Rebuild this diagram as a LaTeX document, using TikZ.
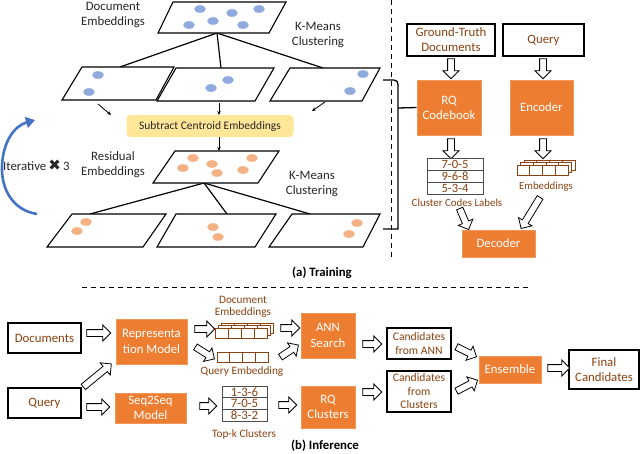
\documentclass[tikz,border=0pt]{standalone}
\usepackage{fontspec}
\setmainfont{Carlito}
\newfontfamily\djv{DejaVu Sans}
\usetikzlibrary{calc,shapes.arrows,arrows.meta}
\definecolor{orng}{HTML}{ED7D31}
\definecolor{brn}{HTML}{8A4210}
\definecolor{bdot}{HTML}{8FAADC}
\definecolor{odot}{HTML}{F4B183}
\definecolor{ylw}{HTML}{FFE699}
\definecolor{blu}{HTML}{4472C4}
\definecolor{txt}{HTML}{262626}
\tikzset{
  para/.style={draw=black, line width=1.1pt, fill=white},
  kline/.style={draw=black, line width=1.2pt},
  thinarr/.style={draw=black, line width=0.8pt, -{Stealth[length=4pt,width=3.5pt]}},
  bdotst/.style={fill=bdot},
  odotst/.style={fill=odot},
  obox/.style={fill=orng, draw=orng!80!white, line width=0.6pt, text=white, align=center, inner sep=0pt},
  wbox/.style={draw=black, line width=1.1pt, fill=white, text=brn, align=center, inner sep=0pt},
  lbl/.style={text=txt, align=center, inner sep=0pt},
  blbl/.style={text=brn, align=center, inner sep=0pt},
  cell/.style={draw=gray!60!black, line width=0.8pt, minimum width=56pt, minimum height=12pt, inner sep=0pt, text=brn, font=\fontsize{12.6}{12}\selectfont},
  emb/.style={draw=brn, line width=0.7pt, fill=white},
  blkarr/.style={single arrow, draw=black, fill=white, line width=0.8pt, inner xsep=0pt, inner ysep=3pt, single arrow head extend=4.5pt, single arrow tip angle=90, minimum width=0pt, outer sep=0pt},
  dsh/.style={draw=black, line width=0.9pt, dash pattern=on 5pt off 4pt}
}
\newcommand{\blkarrow}[2]{\path let \p1=(#1), \p2=(#2), \n1={atan2(\y2-\y1,\x2-\x1)}, \n2={veclen(\x2-\x1,\y2-\y1)} in node[blkarr, minimum height=\n2, rotate=\n1] (arr-#1-#2) at ($(\p1)!0.5!(\p2)$) {};}
\newcommand{\embrow}[4]{\draw[emb] (#1,#2) rectangle ++(#3,#4);
  \foreach \k in {1,2,3} {\draw[emb] ($(#1,#2)+(\k*#3/4,0)$) -- ++(0,#4);}}
\begin{document}
\begin{tikzpicture}[x=1pt,y=-1pt,font=\fontsize{12.8}{15.2}\selectfont]
\useasboundingbox (0,0) rectangle (640,453);

% ---------------- Training: clustering tree ----------------
\coordinate (P0s) at (217,33);
\coordinate (P1n) at (120,67);
\coordinate (P2n) at (221,68);
\coordinate (P3n) at (323,68);
\draw[kline] (P0s) -- (P1n);
\draw[kline] (P0s) -- (P2n);
\draw[kline] (P0s) -- (P3n);

\draw[para] (158,33) -- (173,2) -- (286,2) -- (269,33) -- cycle;
\foreach \a/\b in {200/9,232/13,259/9,189/25,213/21,243/25} \fill[bdotst] (\a,\b) ellipse [x radius=5.8, y radius=3.8];

\draw[para] (62,100) -- (82,67) -- (174,67) -- (156,100) -- cycle;
\draw[para] (157,101) -- (176,68) -- (274,68) -- (255,101) -- cycle;
\draw[para] (270,101) -- (290,68) -- (380,68) -- (362,101) -- cycle;
\foreach \a/\b in {98/75,89/92,228/80,211/88,363/74,350/91} \fill[bdotst] (\a,\b) ellipse [x radius=5.8, y radius=3.8];

\node[lbl] (docemb) at (113,15) {Document\\Embeddings};
\node[lbl] (km1) at (318,35) {K-Means\\Clustering};

\node[fill=ylw, rounded corners=4pt, minimum width=167pt, minimum height=22pt, inner sep=0pt, text=txt, font=\fontsize{11.5}{13}\selectfont] (S) at (210,126) {Subtract Centroid Embeddings};

\coordinate (a1s) at (98,104); \coordinate (a1e) at (111,115);
\coordinate (a2s) at (219,103); \coordinate (a2e) at (219,115);
\coordinate (a3s) at (325,102); \coordinate (a3e) at (312,111);
\draw[thinarr] (a1s) -- (a1e);
\draw[thinarr] (a2s) -- (a2e);
\draw[thinarr] (a3s) -- (a3e);
\coordinate (a4s) at (219,137); \coordinate (a4e) at (219,151);
\draw[thinarr] (a4s) -- (a4e);

\coordinate (R0s) at (204,183);
\coordinate (Q1n) at (90,214);
\coordinate (Q2n) at (227,214);
\coordinate (Q3n) at (310,214);
\draw[kline] (R0s) -- (Q1n);
\draw[kline] (R0s) -- (Q2n);
\draw[kline] (R0s) -- (Q3n);

\draw[para] (153,183) -- (175,151) -- (279,151) -- (258,183) -- cycle;
\foreach \a/\b in {193/158,183/168,212/164,217/173,252/158,243/170} \fill[odotst] (\a,\b) ellipse [x radius=5.8, y radius=3.8];

\draw[para] (47,247) -- (72,214) -- (166,214) -- (143,247) -- cycle;
\draw[para] (157,247) -- (176,214) -- (276,214) -- (255,247) -- cycle;
\draw[para] (269,247) -- (292,214) -- (380,214) -- (363,247) -- cycle;
\foreach \a/\b in {86/222,77/231,213/227,218/237,357/223,349/234} \fill[odotst] (\a,\b) ellipse [x radius=5.8, y radius=3.8];

\node[lbl] (resemb) at (113,165) {Residual\\Embeddings};
\node[lbl] (km2) at (312,184) {K-Means\\Clustering};

% iterative arc
\coordinate (itA) at (37,214);
\coordinate (itB) at (35,120);
\draw[blu, line width=2.6pt, -{Triangle[length=9pt,width=11pt]}] (itA) .. controls (12,210) and (1,188) .. (2,166) .. controls (3,142) and (14,126) .. (itB);
\node[lbl, anchor=west] (iter) at (3,165) {Iterative\,{\djv\fontsize{15}{15}\selectfont ✖}\,3};

% dashed separators
\coordinate (vd1) at (391,0); \coordinate (vd2) at (391,257);
\draw[dsh] (vd1) -- (vd2);
\coordinate (hd1) at (82,287); \coordinate (hd2) at (528,287);
\draw[dsh] (hd1) -- (hd2);

\node[font=\bfseries\fontsize{12.8}{15}\selectfont, inner sep=0pt] (trn) at (322,273) {(a) Training};

% ---------------- Training: right part ----------------
\node[wbox, minimum width=88pt, minimum height=32pt] (GT) at (451,40) {Ground-Truth\\Documents};
\node[wbox, minimum width=81pt, minimum height=32pt] (QT) at (543.5,40) {Query};
\node[obox, minimum width=64pt, minimum height=55pt] (RQ) at (449,107.5) {RQ\\Codebook};
\node[obox, minimum width=63pt, minimum height=55pt] (ENC) at (541.5,107.5) {Encoder};

% brace
\draw[black, line width=1.3pt] (383,80) -- (394,80) .. controls (397,80) and (398,82) .. (398,85) -- (398,229) -- (383,229);
\draw[black, line width=1.3pt] (398,108) -- (RQ.west);

\coordinate (b1s) at (451,57); \coordinate (b1e) at (451,77);
\coordinate (b2s) at (543,57); \coordinate (b2e) at (543,77);
\blkarrow{b1s}{b1e}
\blkarrow{b2s}{b2e}
\coordinate (b3s) at (451,137); \coordinate (b3e) at (451,157);
\coordinate (b4s) at (543,137); \coordinate (b4e) at (543,157);
\blkarrow{b3s}{b3e}
\blkarrow{b4s}{b4e}

\node[cell] (cc1) at (455,164) {7-0-5};
\node[cell] (cc2) at (455,176) {9-6-8};
\node[cell] (cc3) at (455,188) {5-3-4};
\node[blbl, font=\fontsize{10.9}{12}\selectfont] (ccl) at (457,203) {Cluster Codes Labels};

\embrow{524}{160}{51}{10}
\embrow{520.5}{162.5}{51}{10}
\embrow{517}{165}{51}{10}
\node[blbl, font=\fontsize{10.8}{12}\selectfont] (embl) at (546,187) {Embeddings};

\node[obox, minimum width=73pt, minimum height=27pt] (DEC) at (498.5,243.5) {Decoder};
\coordinate (b5s) at (459,207); \coordinate (b5e) at (468,228);
\coordinate (b6s) at (541,196); \coordinate (b6e) at (522,227);
\blkarrow{b5s}{b5e}
\blkarrow{b6s}{b6e}

% ---------------- Inference ----------------
\node[wbox, minimum width=73pt, minimum height=30pt] (DOC) at (44.5,338) {Documents};
\node[wbox, minimum width=73pt, minimum height=30pt] (QI) at (44.5,403) {Query};
\node[obox, minimum width=71pt, minimum height=45pt] (REP) at (151.5,341.5) {Representa\\tion Model};
\node[obox, minimum width=71pt, minimum height=30pt] (SEQ) at (150.5,408) {Seq2Seq\\Model};

\coordinate (c1s) at (85,333); \coordinate (c1e) at (109,333);
\coordinate (c2s) at (82,388); \coordinate (c2e) at (110,365);
\coordinate (c3s) at (85,407); \coordinate (c3e) at (108,407);
\blkarrow{c1s}{c1e}
\blkarrow{c2s}{c2e}
\blkarrow{c3s}{c3e}

\coordinate (c4s) at (193,329); \coordinate (c4e) at (213,329);
\coordinate (c5s) at (194,346); \coordinate (c5e) at (213,358);
\blkarrow{c4s}{c4e}
\blkarrow{c5s}{c5e}

\node[blbl, font=\fontsize{11.3}{12.5}\selectfont] (deml) at (243,307) {Document\\Embeddings};
\embrow{221}{323}{52}{10}
\embrow{218}{325.5}{52}{10}
\embrow{215}{328}{52}{10}
\embrow{217}{352}{51}{10}
\node[blbl, font=\fontsize{11.3}{12.5}\selectfont] (qeml) at (242,372) {Query Embedding};

\node[cell, minimum width=45pt, minimum height=11.7pt, font=\fontsize{12.8}{12}\selectfont] (tk1) at (244.5,391.8) {1-3-6};
\node[cell, minimum width=45pt, minimum height=11.7pt, font=\fontsize{12.8}{12}\selectfont] (tk2) at (244.5,403.5) {7-0-5};
\node[cell, minimum width=45pt, minimum height=11.7pt, font=\fontsize{12.8}{12}\selectfont] (tk3) at (244.5,415.2) {8-3-2};
\node[blbl, font=\fontsize{11.3}{12.5}\selectfont] (tkl) at (244,434) {Top-k Clusters};

\coordinate (c6s) at (198,406); \coordinate (c6e) at (215,406);
\blkarrow{c6s}{c6e}

\node[obox, minimum width=54pt, minimum height=45pt] (ANN) at (328,335.5) {ANN\\Search};
\node[obox, minimum width=54pt, minimum height=42pt] (RQC) at (328,407) {RQ\\Clusters};

\coordinate (c7s) at (279,328); \coordinate (c7e) at (298,328);
\coordinate (c8s) at (279,358); \coordinate (c8e) at (297,346);
\coordinate (c9s) at (277,405); \coordinate (c9e) at (295,405);
\blkarrow{c7s}{c7e}
\blkarrow{c8s}{c8e}
\blkarrow{c9s}{c9e}

\node[wbox, minimum width=64pt, minimum height=31pt, font=\fontsize{11.6}{14}\selectfont] (CA) at (419,343.5) {Candidates\\from ANN};
\node[wbox, minimum width=64pt, minimum height=41pt, font=\fontsize{11.6}{13.5}\selectfont] (CC) at (419,391.5) {Candidates\\from\\Clusters};

\coordinate (d1s) at (361,344); \coordinate (d1e) at (380,344);
\coordinate (d2s) at (361,392); \coordinate (d2e) at (380,392);
\blkarrow{d1s}{d1e}
\blkarrow{d2s}{d2e}

\node[obox, minimum width=62pt, minimum height=27pt] (ENS) at (510,369.5) {Ensemble};
\coordinate (d3s) at (455,346); \coordinate (d3e) at (475,356);
\coordinate (d4s) at (455,392); \coordinate (d4e) at (476,381);
\blkarrow{d3s}{d3e}
\blkarrow{d4s}{d4e}

\node[wbox, minimum width=70pt, minimum height=39pt] (FIN) at (604,369.5) {Final\\Candidates};
\coordinate (d5s) at (546,368); \coordinate (d5e) at (568,368);
\blkarrow{d5s}{d5e}

\node[font=\bfseries\fontsize{12.8}{15}\selectfont, inner sep=0pt] (inf) at (325,446) {(b) Inference};
\end{tikzpicture}
\end{document}
